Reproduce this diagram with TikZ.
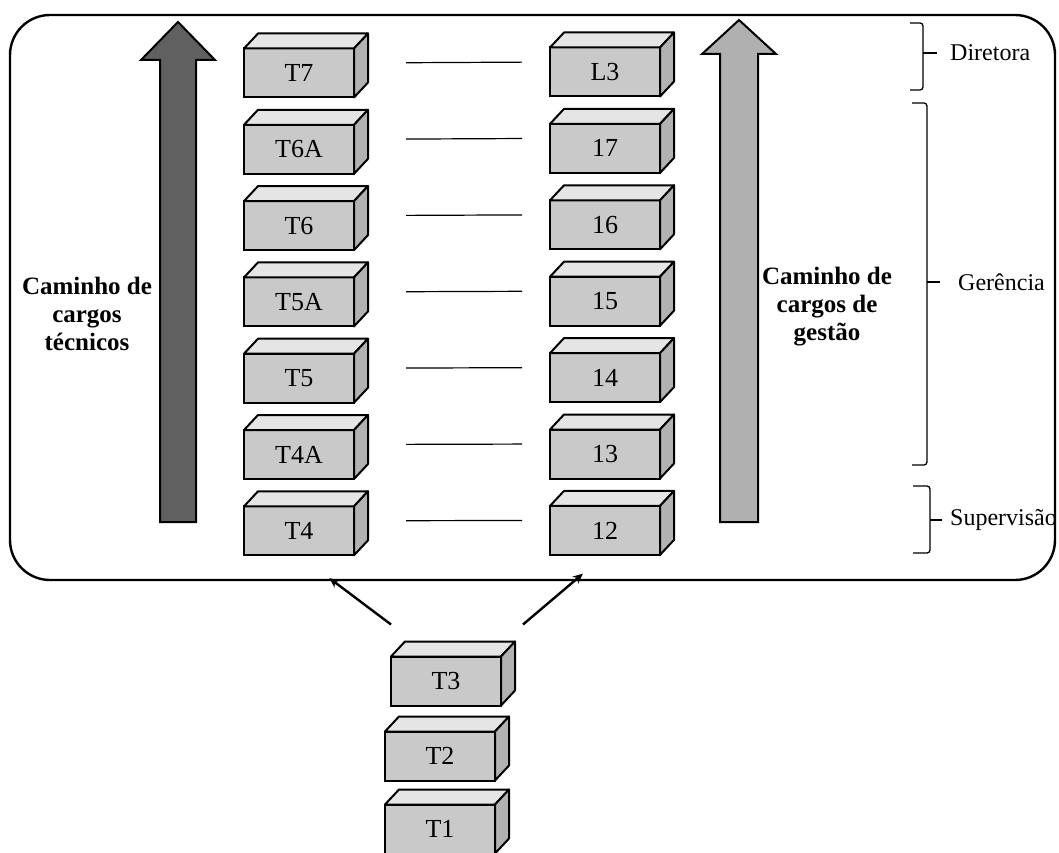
\documentclass[tikz,border=0pt]{standalone}
\usepackage{fontspec}
\setmainfont{Liberation Serif}
\usetikzlibrary{arrows.meta, calc}
\newcommand{\rotulo}{\fontsize{24}{28}\selectfont}
\newcommand{\rotcaixa}{\fontsize{26}{28}\selectfont}
\newcommand{\rottitulo}{\fontsize{25}{28}\selectfont}

\begin{document}
\begin{tikzpicture}[x=1pt, y=-1pt,
    caixa/.style={draw, line width=2pt, fill=gray!42, minimum width=110pt,
                  minimum height=49pt, inner sep=0pt, outer sep=0pt, font=\rotcaixa},
    topo/.style={draw, line width=2pt, fill=gray!20, line join=round},
    lado/.style={draw, line width=2pt, fill=gray!60, line join=round},
    nivel/.style={line width=1.2pt, shorten <=52pt, shorten >=28pt},
    caminho/.style={draw, line width=2pt, line join=miter},
    chave/.style={line width=1.3pt, rounded corners=3pt},
    seta/.style={-{Stealth[length=10pt, width=9pt]}, line width=2.4pt},
    rot/.style={font=\rotulo, anchor=west, inner sep=0pt},
    titulo/.style={font=\rottitulo\bfseries, align=center, inner sep=0pt},
]
    \useasboundingbox (0,0) rectangle (1059,853);

    % Moldura
    \draw[line width=2.4pt, rounded corners=40pt] (10,15) rectangle (1055,580);

    % Setas grandes
    \filldraw[caminho, fill=gray!75!black]
        (160,522) -- (160,60) -- (141,60) -- (178,22) -- (215,60) -- (196,60) -- (196,522) -- cycle;
    \filldraw[caminho, fill=gray!62]
        (720,522) -- (720,54) -- (702,54) -- (739,20) -- (776,54) -- (758,54) -- (758,522) -- cycle;

    \node[titulo] (tecnico) at (87,314) {Caminho de\\cargos\\técnicos};
    \node[titulo] (gestao) at (827,307) {Caminho de\\cargos de\\gestão};

    % Cargos
    \foreach \nome/\txt [count=\i from 0] in {t7/T7, t6a/T6A, t6/T6, t5a/T5A, t5/T5, t4a/T4A, t4/T4}
        \node[caixa] (\nome) at (299, {73+76.3*\i}) {\txt};
    \foreach \nome/\txt [count=\i from 0] in {l3/L3, n17/17, n16/16, n15/15, n14/14, n13/13, n12/12}
        \node[caixa] (\nome) at (605, {72+76.4*\i}) {\txt};
    \node[caixa] (t3) at (446,681) {T3};
    \node[caixa] (t2) at (440,756) {T2};
    \node[caixa] (t1) at (440,829) {T1};

    \foreach \n in {t7, t6a, t6, t5a, t5, t4a, t4, l3, n17, n16, n15, n14, n13, n12, t3, t2, t1} {
        \filldraw[topo] (\n.north west) -- ++(14pt,15pt) -- ++(110pt,0pt) -- (\n.north east) -- cycle;
        \filldraw[lado] (\n.north east) -- ++(14pt,15pt) -- ++(0pt,-49pt) -- (\n.south east) -- cycle;
    }

    % Equivalencias
    \foreach \a/\b in {t7/l3, t6a/n17, t6/n16, t5a/n15, t5/n14, t4a/n13, t4/n12}
        \draw[nivel] ([yshift=10pt]\a.east) -- ([yshift=10pt]\b.west);

    % Entrada
    \draw[seta, shorten >=38pt] ([yshift=32pt]t3.north west) -- (t4.south);
    \draw[seta, shorten >=29pt] ([xshift=22pt, yshift=32pt]t3.north east) -- (n12.south);

    % Niveis
    \draw[chave] (910,23) -- (923,23) -- (923,90) -- (910,90);
    \draw[chave] (923,53) -- (937,53);
    \node[rot] (diretora) at (950,53) {Diretora};

    \draw[chave] (912,103) -- (927,103) -- (927,465) -- (912,465);
    \draw[chave] (927,282) -- (940,282);
    \node[rot] (gerencia) at (958,282) {Gerência};

    \draw[chave] (913,486) -- (930,486) -- (930,553) -- (913,553);
    \draw[chave] (930,520) -- (942,520);
    \node[rot] (supervisao) at (950,520) {Supervisão};
\end{tikzpicture}
\end{document}
